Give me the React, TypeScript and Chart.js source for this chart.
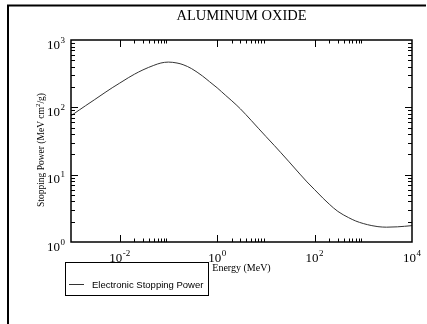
import React, { useEffect, useRef } from 'react';
import { Chart, registerables } from 'chart.js';

Chart.register(...registerables);

// ---- Data ----
const energies = [
  0.001, 0.0015, 0.002, 0.003, 0.005, 0.007, 0.01, 0.015, 0.02, 0.03, 0.05, 0.07,
  0.1, 0.15, 0.2, 0.3, 0.5, 0.7, 1, 1.5, 2, 3, 5, 7, 10, 15, 20, 30, 50, 70,
  100, 150, 200, 300, 500, 700, 1000, 1500, 2000, 3000, 5000, 7000, 10000,
];
const stoppingPower = [
  75, 92, 106, 129, 166, 195, 229, 275, 310, 360, 420, 455,
  470, 455, 430, 375, 292, 240, 195, 150, 125, 95, 64, 49, 37, 27, 21.5, 15.5, 10.2, 7.8,
  6.0, 4.45, 3.65, 2.85, 2.3, 2.05, 1.88, 1.75, 1.69, 1.66, 1.68, 1.71, 1.75,
];

const xLabelExponents = [-2, 0, 2, 4];
const yLabelExponents = [0, 1, 2, 3];
const xMajorTicks = [0.01, 1, 100];
const xMinorDecades = [0.01, 1, 100];
const yMajorTicks = [10, 100];
const yMinorDecades = [1, 10, 100];
const minorMultipliers = [2, 3, 4, 5, 6, 7, 8, 9];

const chartTitle = 'ALUMINUM OXIDE';
const xTitle = 'Energy (MeV)';
const yTitleParts = ['Stopping Power (MeV cm', '2', '/g)'];
const legendLabel = 'Electronic Stopping Power';

const SERIF = '"Liberation Serif", "Times New Roman", serif';
const SANS = '"Liberation Sans", Arial, sans-serif';

function drawPower(
  ctx: CanvasRenderingContext2D,
  exp: number,
  x: number,
  baseline: number,
  align: 'center' | 'right'
) {
  const mainFont = `13px ${SERIF}`;
  const supFont = `9px ${SERIF}`;
  const sup = exp < 0 ? '-' + Math.abs(exp) : String(exp);
  ctx.font = mainFont;
  const w1 = ctx.measureText('10').width;
  ctx.font = supFont;
  const w2 = ctx.measureText(sup).width;
  const total = w1 + w2 + 0.5;
  const start = align === 'center' ? x - total / 2 : x - total;
  ctx.textAlign = 'left';
  ctx.textBaseline = 'alphabetic';
  ctx.font = mainFont;
  ctx.fillText('10', start, baseline);
  ctx.font = supFont;
  ctx.fillText(sup, start + w1 + 0.5, baseline - 6);
}

const decorPlugin = {
  id: 'decor',
  afterDraw(chart: any) {
    const ctx: CanvasRenderingContext2D = chart.ctx;
    const { left, top, right, bottom } = chart.chartArea;
    const xs = chart.scales.x;
    const ys = chart.scales.y;
    ctx.save();
    ctx.fillStyle = '#000';
    ctx.strokeStyle = '#000';

    // outer page frame (top and left)
    ctx.lineWidth = 2;
    ctx.beginPath();
    ctx.moveTo(7, 5.5);
    ctx.lineTo(chart.width - 1, 5.5);
    ctx.moveTo(8, 4.5);
    ctx.lineTo(8, chart.height);
    ctx.stroke();

    // plot frame
    ctx.lineWidth = 1.5;
    ctx.strokeRect(left, top, right - left, bottom - top);

    // ticks
    ctx.lineWidth = 1;
    ctx.beginPath();
    const xTick = (v: number, len: number) => {
      const px = Math.round(xs.getPixelForValue(v)) + 0.5;
      ctx.moveTo(px, bottom);
      ctx.lineTo(px, bottom - len);
      ctx.moveTo(px, top);
      ctx.lineTo(px, top + len);
    };
    const yTick = (v: number, len: number) => {
      const py = Math.round(ys.getPixelForValue(v)) + 0.5;
      ctx.moveTo(left, py);
      ctx.lineTo(left + len, py);
      ctx.moveTo(right, py);
      ctx.lineTo(right - len, py);
    };
    xMajorTicks.forEach((v) => xTick(v, 7));
    xMinorDecades.forEach((d) => minorMultipliers.forEach((m) => xTick(m * d, 3.5)));
    yMajorTicks.forEach((v) => yTick(v, 7));
    yMinorDecades.forEach((d) => minorMultipliers.forEach((m) => yTick(m * d, 4)));
    ctx.stroke();

    // tick labels
    xLabelExponents.forEach((e) => {
      const px = xs.getPixelForValue(Math.pow(10, e));
      drawPower(ctx, e, px, bottom + 19.5, 'center');
    });
    yLabelExponents.forEach((e) => {
      const py = ys.getPixelForValue(Math.pow(10, e));
      drawPower(ctx, e, left - 6, py + 8.5, 'right');
    });

    // title
    ctx.textAlign = 'center';
    ctx.textBaseline = 'alphabetic';
    ctx.font = `14.5px ${SERIF}`;
    ctx.fillText(chartTitle, (left + right) / 2, 19.5);

    // x title
    ctx.font = `10px ${SERIF}`;
    ctx.fillText(xTitle, (left + right) / 2, 271);

    // y title (rotated)
    ctx.save();
    ctx.translate(44, 150);
    ctx.rotate(-Math.PI / 2);
    ctx.font = `9.5px ${SERIF}`;
    const a = ctx.measureText(yTitleParts[0]).width;
    ctx.font = `7px ${SERIF}`;
    const b = ctx.measureText(yTitleParts[1]).width;
    ctx.font = `9.5px ${SERIF}`;
    const c = ctx.measureText(yTitleParts[2]).width;
    const tot = a + b + c;
    ctx.textAlign = 'left';
    ctx.fillText(yTitleParts[0], -tot / 2, 0);
    ctx.font = `7px ${SERIF}`;
    ctx.fillText(yTitleParts[1], -tot / 2 + a, -4);
    ctx.font = `9.5px ${SERIF}`;
    ctx.fillText(yTitleParts[2], -tot / 2 + a + b, 0);
    ctx.restore();

    // legend
    ctx.lineWidth = 1;
    ctx.strokeRect(65.5, 262.5, 143, 33);
    ctx.strokeStyle = '#333';
    ctx.beginPath();
    ctx.moveTo(69, 284.5);
    ctx.lineTo(84, 284.5);
    ctx.stroke();
    ctx.textAlign = 'left';
    ctx.font = `9.5px ${SANS}`;
    ctx.fillText(legendLabel, 92, 288);

    ctx.restore();
  },
};

export default function App() {
  const canvasRef = useRef<HTMLCanvasElement | null>(null);

  useEffect(() => {
    const canvas = canvasRef.current;
    if (!canvas) return;
    const chart = new Chart(canvas, {
      type: 'scatter',
      data: {
        datasets: [
          {
            label: legendLabel,
            data: energies.map((e, i) => ({ x: e, y: stoppingPower[i] })),
            showLine: true,
            borderColor: '#333',
            borderWidth: 1,
            pointRadius: 0,
            cubicInterpolationMode: 'monotone',
            fill: false,
          },
        ],
      },
      options: {
        responsive: false,
        animation: false,
        devicePixelRatio: 1,
        layout: { padding: { left: 71, top: 40, right: 15, bottom: 82 } },
        plugins: {
          legend: { display: false },
          title: { display: false },
          tooltip: { enabled: false },
        },
        scales: {
          x: { type: 'logarithmic', min: 0.001, max: 10000, display: false },
          y: { type: 'logarithmic', min: 1, max: 1000, display: false },
        },
      },
      plugins: [decorPlugin],
    });
    return () => chart.destroy();
  }, []);

  return (
    <div
      style={{
        position: 'fixed',
        left: 0,
        top: 0,
        width: 427,
        height: 324,
        background: '#fff',
      }}
    >
      <canvas ref={canvasRef} width={427} height={324} style={{ display: 'block' }} />
    </div>
  );
}
